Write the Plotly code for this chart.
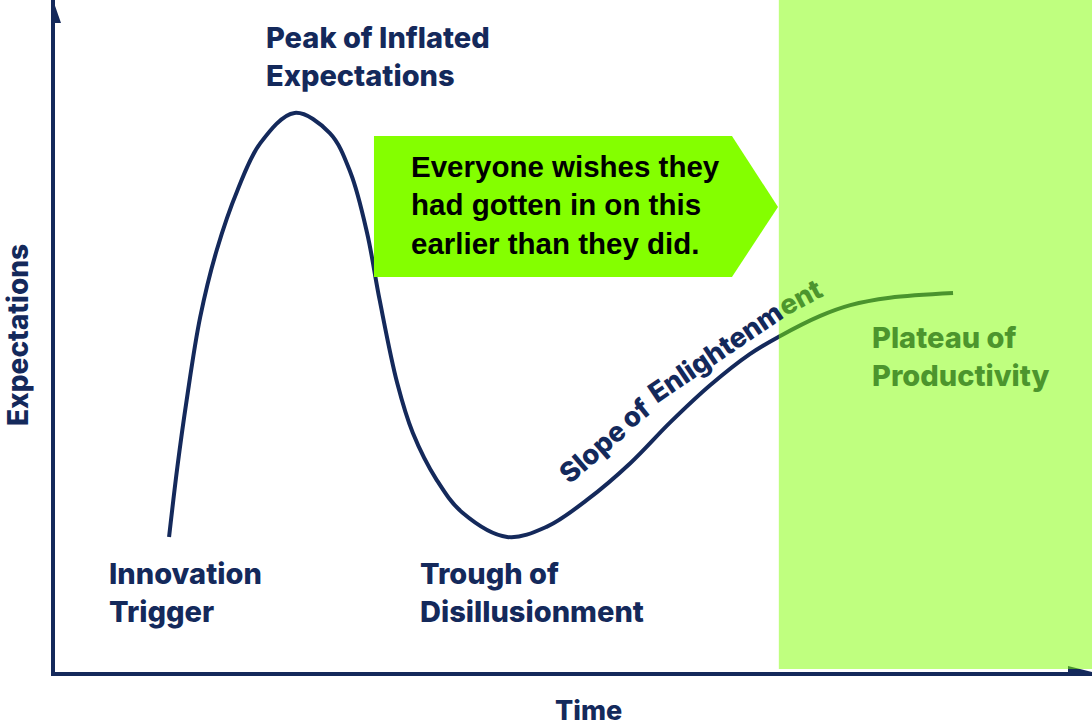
import plotly.graph_objects as go

# ---- data (time units 0-100, expectation units 0-100) ----
time_pts = [11.0, 11.8, 12.7, 14.0, 15.6, 17.6, 19.8, 23.1, 26.5, 28.5, 30.1, 31.3,
            33.0, 34.5, 36.8, 39.3, 43.6, 47.4, 51.3, 55.5, 59.3, 63.2, 67.0, 69.8,
            73.8, 76.7, 80.5, 86.6]
expect_pts = [20.1, 30.5, 40.5, 52.8, 62.8, 71.7, 78.7, 83.2, 80.2, 74.3, 65.3, 55.4,
              43.0, 35.6, 28.6, 23.7, 20.1, 21.6, 25.6, 31.1, 37.1, 42.7, 47.3, 49.9,
              53.0, 54.6, 55.7, 56.4]

plateau_start = 69.8  # time where the highlighted plateau zone begins

phase_labels = ["Innovation<br>Trigger", "Peak of Inflated<br>Expectations",
                "Trough of<br>Disillusionment", "Plateau of<br>Productivity"]
phase_label_t = [5.0, 20.2, 35.0, 78.6]
phase_label_e = [17.6, 97.3, 17.6, 52.7]

slope_words = ["Slope", "of", "Enlightenm", "ent"]
slope_word_t = [51.8, 56.0, 63.7, 71.9]
slope_word_e = [32.7, 38.5, 47.6, 55.8]
slope_word_angle = [-41, -39, -34, -28]

callout_text = "Everyone wishes they<br>had gotten in on this<br>earlier than they did."
callout_left, callout_right, callout_tip = 30.76, 65.28, 69.72
callout_top, callout_mid, callout_bottom = 79.76, 69.2, 58.78

NAVY = "#14295b"
GREEN_TXT = "#4c952d"
LIME = "#84ff00"
FONT = "Inter"

W, H = 1092, 727
ML, MB = 55, 55
PW, PH = W - ML, H - MB


def px(xp, yp):
    return (xp - ML) / PW, (PH - yp) / PH


fig = go.Figure()
fig.add_trace(go.Scatter(
    x=time_pts, y=expect_pts, mode="lines",
    line=dict(color=NAVY, width=4, shape="spline", smoothing=1.0),
    hoverinfo="skip", showlegend=False))

shapes = []
shapes.append(dict(
    type="path", xref="x", yref="y", layer="above",
    path=(f"M {callout_left},{callout_top} L {callout_right},{callout_top} "
          f"L {callout_tip},{callout_mid} L {callout_right},{callout_bottom} "
          f"L {callout_left},{callout_bottom} Z"),
    fillcolor=LIME, line=dict(width=0)))
a1 = px(53, 0); a2 = px(61, 23); a3 = px(53, 23)
shapes.append(dict(type="path", xref="paper", yref="paper", layer="above",
                   path=f"M {a1[0]},{a1[1]} L {a2[0]},{a2[1]} L {a3[0]},{a3[1]} Z",
                   fillcolor=NAVY, line=dict(width=0)))
b1 = px(1068, 666); b2 = px(1092, 672); b3 = px(1068, 672)
shapes.append(dict(type="path", xref="paper", yref="paper", layer="above",
                   path=f"M {b1[0]},{b1[1]} L {b2[0]},{b2[1]} L {b3[0]},{b3[1]} Z",
                   fillcolor=NAVY, line=dict(width=0)))
shapes.append(dict(type="rect", xref="x", yref="y", layer="above",
                   x0=plateau_start, x1=100, y0=0.45, y1=100,
                   fillcolor="#80ff00", opacity=0.5, line=dict(width=0)))

annotations = []
for i, (txt, t, e) in enumerate(zip(phase_labels, phase_label_t, phase_label_e)):
    annotations.append(dict(
        x=t, y=e, xref="x", yref="y", text=txt, showarrow=False,
        xanchor="left", yanchor="top", align="left",
        font=dict(family=FONT, size=29, weight=800,
                  color=GREEN_TXT if i == 3 else NAVY)))

for i, (w, t, e, ang) in enumerate(zip(slope_words, slope_word_t, slope_word_e, slope_word_angle)):
    annotations.append(dict(
        x=t, y=e, xref="x", yref="y", text=w, showarrow=False,
        xanchor="center", yanchor="middle", textangle=ang,
        font=dict(family=FONT, size=27.5, weight=800,
                  color=GREEN_TXT if i == 3 else NAVY)))

annotations.append(dict(
    x=34.14, y=78.0, xref="x", yref="y", text=callout_text, showarrow=False,
    xanchor="left", yanchor="top", align="left",
    font=dict(family="Liberation Sans", size=29.5, weight="bold", color="#000000")))

ex = px(18, 335)
annotations.append(dict(x=ex[0], y=ex[1], xref="paper", yref="paper",
                        text="Expectations", showarrow=False, textangle=-90,
                        xanchor="center", yanchor="middle",
                        font=dict(family=FONT, size=28, weight=800, color=NAVY)))
tm = px(588, 711)
annotations.append(dict(x=tm[0], y=tm[1], xref="paper", yref="paper",
                        text="Time", showarrow=False,
                        xanchor="center", yanchor="middle",
                        font=dict(family=FONT, size=27, weight=800, color=NAVY)))

fig.update_layout(
    width=W, height=H,
    margin=dict(l=ML, r=0, t=0, b=MB),
    paper_bgcolor="white", plot_bgcolor="white",
    xaxis=dict(range=[0, 100], showgrid=False, zeroline=False, showticklabels=False,
               ticks="", showline=True, linecolor=NAVY, linewidth=4, fixedrange=True),
    yaxis=dict(range=[0, 100], showgrid=False, zeroline=False, showticklabels=False,
               ticks="", showline=True, linecolor=NAVY, linewidth=4, fixedrange=True),
    shapes=shapes, annotations=annotations, showlegend=False)

fig.write_html("out.html", config={"displayModeBar": False},
               post_script="document.body.style.margin='0';document.body.style.padding='0';")
